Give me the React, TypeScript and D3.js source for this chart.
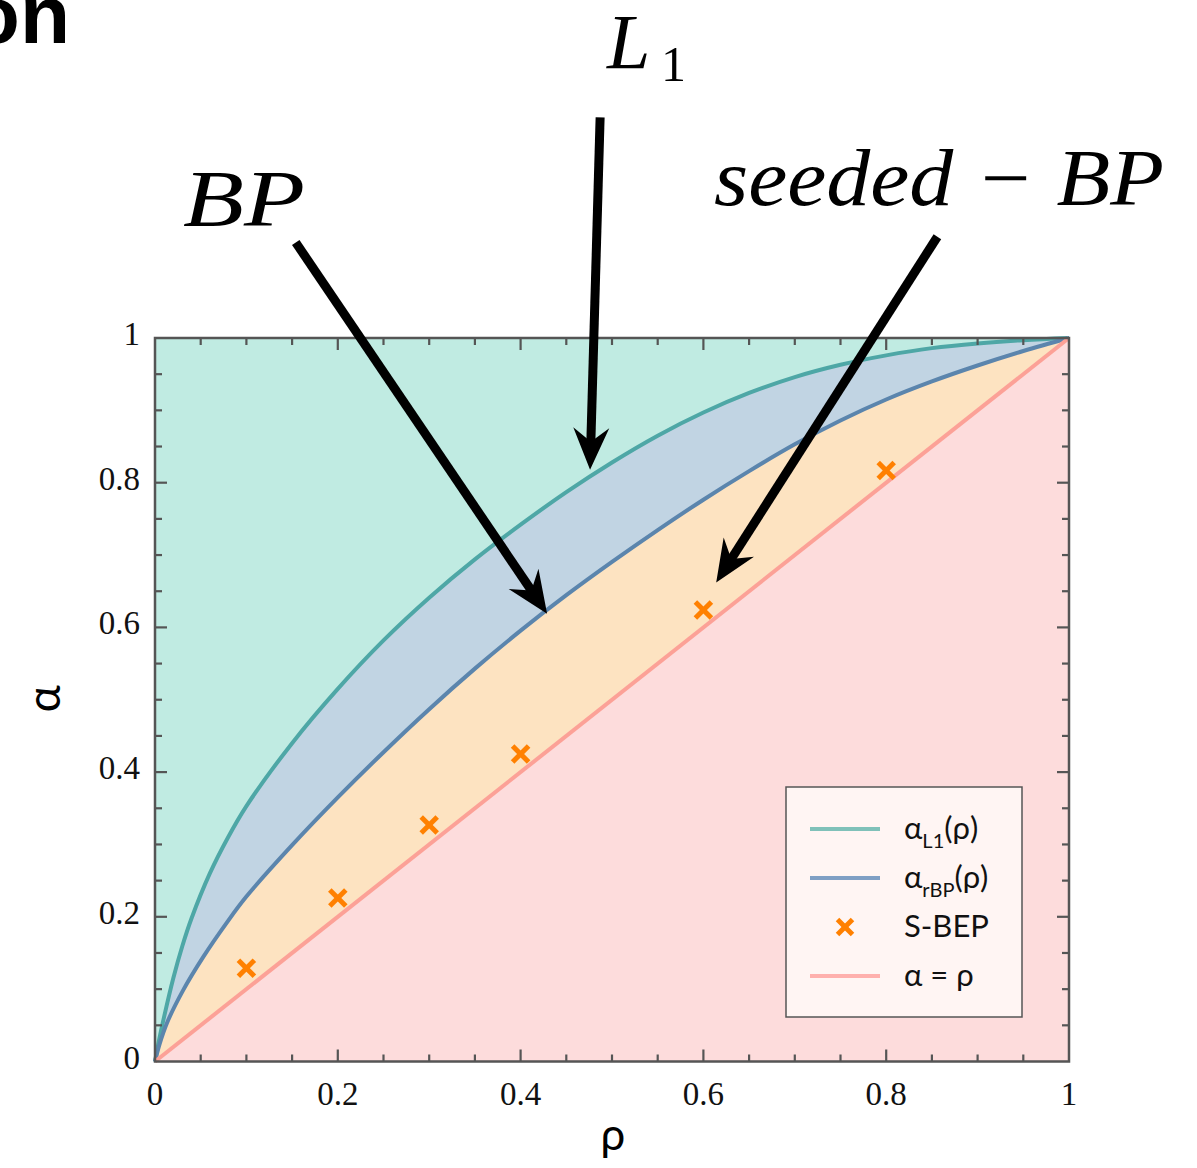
import React from "react";
import * as d3 from "d3";

// Phase boundaries in the (rho, alpha) plane
const rhoL1 = [0, 0.005, 0.01, 0.02, 0.03, 0.04, 0.06, 0.08, 0.1, 0.15, 0.2, 0.25, 0.3, 0.35, 0.4, 0.45, 0.5, 0.55, 0.6, 0.65, 0.7, 0.75, 0.8, 0.85, 0.9, 0.95, 1];
const alphaL1 = [0, 0.033, 0.062, 0.115, 0.16, 0.198, 0.26, 0.31, 0.353, 0.44, 0.515, 0.582, 0.641, 0.694, 0.742, 0.787, 0.828, 0.865, 0.897, 0.924, 0.946, 0.963, 0.976, 0.986, 0.9925, 0.997, 1];

const rhoBP = [0, 0.005, 0.013, 0.031, 0.053, 0.078, 0.1, 0.15, 0.2, 0.25, 0.3, 0.35, 0.4, 0.45, 0.5, 0.55, 0.6, 0.65, 0.7, 0.75, 0.8, 0.85, 0.9, 0.95, 1];
const alphaBP = [0, 0.024, 0.053, 0.099, 0.145, 0.191, 0.228, 0.299, 0.365, 0.4275, 0.487, 0.543, 0.5955, 0.6445, 0.6905, 0.7345, 0.7765, 0.816, 0.853, 0.886, 0.915, 0.94, 0.962, 0.982, 1];

const rhoDiag = [0, 1];
const alphaDiag = [0, 1];

// Seeded BEP simulation points
const rhoSBEP = [0.1, 0.2, 0.3, 0.4, 0.6, 0.8];
const alphaSBEP = [0.129, 0.226, 0.327, 0.425, 0.624, 0.817];

const majorTicks = [0, 0.2, 0.4, 0.6, 0.8, 1];
const tickLabels = ["0", "0.2", "0.4", "0.6", "0.8", "1"];

// Annotation arrows: tail and tip in data coordinates
const arrowTails = [[0.487, 1.305], [0.154, 1.132], [0.856, 1.14]];
const arrowTips = [[0.476, 0.818], [0.429, 0.619], [0.614, 0.662]];

const COLORS = {
  mint: "#c0ebe2",
  blueFill: "#c1d4e3",
  peach: "#fde3c1",
  pink: "#fddcdc",
  teal: "#4ea7a6",
  blue: "#5b85ad",
  diag: "#fca197",
  cross: "#ff8000",
  frame: "#555555",
};

const L = 155, R = 1069, T = 338, B = 1061.5;

function zip(a: number[], b: number[]): [number, number][] {
  return a.map((v, i) => [v, b[i]]);
}

function Arrow({ x1, y1, x2, y2 }: { x1: number; y1: number; x2: number; y2: number }) {
  const dx = x2 - x1, dy = y2 - y1;
  const len = Math.hypot(dx, dy);
  const ux = dx / len, uy = dy / len;
  const nx = -uy, ny = ux;
  const headLen = 42, headHalf = 18, notch = 28;
  const bx = x2 - ux * headLen, by = y2 - uy * headLen;
  const ix = x2 - ux * notch, iy = y2 - uy * notch;
  const head = `M${x2},${y2} L${bx + nx * headHalf},${by + ny * headHalf} L${ix},${iy} L${bx - nx * headHalf},${by - ny * headHalf} Z`;
  return (
    <g>
      <line x1={x1} y1={y1} x2={ix + ux * 2} y2={iy + uy * 2} stroke="#000" strokeWidth={9} />
      <path d={head} fill="#000" />
    </g>
  );
}

export default function App() {
  const x = d3.scaleLinear().domain([0, 1]).range([L, R]);
  const y = d3.scaleLinear().domain([0, 1]).range([B, T]);

  const curve = d3.curveCatmullRom.alpha(0.5);
  const line = d3
    .line<[number, number]>()
    .x((d) => x(d[0]))
    .y((d) => y(d[1]))
    .curve(curve);
  const area = d3
    .area<[number, number]>()
    .x((d) => x(d[0]))
    .y0(y(0))
    .y1((d) => y(d[1]))
    .curve(curve);

  const l1 = zip(rhoL1, alphaL1);
  const bp = zip(rhoBP, alphaBP);
  const diag = zip(rhoDiag, alphaDiag);

  const minorTicks = d3.range(0, 1.0001, 0.05).filter((t) => Math.abs(Math.round(t * 5) - t * 5) > 1e-6);

  const tickMarks: React.ReactNode[] = [];
  const addTicks = (vals: number[], lenPx: number, key: string) => {
    vals.forEach((t, i) => {
      const px = x(t), py = y(t);
      tickMarks.push(
        <line key={`${key}b${i}`} x1={px} x2={px} y1={B} y2={B - lenPx} />,
        <line key={`${key}t${i}`} x1={px} x2={px} y1={T} y2={T + lenPx} />,
        <line key={`${key}l${i}`} x1={L} x2={L + lenPx} y1={py} y2={py} />,
        <line key={`${key}r${i}`} x1={R} x2={R - lenPx} y1={py} y2={py} />
      );
    });
  };
  addTicks(majorTicks.slice(1, -1), 12, "M");
  addTicks(minorTicks, 7, "m");

  const serif = "'Liberation Serif', 'DejaVu Serif', serif";
  const sans = "Lato, 'Noto Sans', sans-serif";

  const lx1 = 810, lx2 = 880, ltx = 904;
  const rows = [829, 878, 927, 976];

  const cross = (cx: number, cy: number, s: number, key: string) => (
    <g key={key} stroke={COLORS.cross} strokeWidth={5}>
      <line x1={cx - s} y1={cy - s} x2={cx + s} y2={cy + s} />
      <line x1={cx - s} y1={cy + s} x2={cx + s} y2={cy - s} />
    </g>
  );

  return (
    <svg
      width={1197}
      height={1168}
      viewBox="0 0 1197 1168"
      style={{ position: "absolute", left: 0, top: 0, background: "#fff" }}
    >
      {/* corner title fragment */}
      <text x={70} y={43} textAnchor="end" fontFamily="'Liberation Sans', Arial, sans-serif" fontWeight="bold" fontSize={82} fill="#000">
        on
      </text>

      {/* regions */}
      <rect x={L} y={T} width={R - L} height={B - T} fill={COLORS.mint} />
      <path d={area(l1) ?? ""} fill={COLORS.blueFill} />
      <path d={area(bp) ?? ""} fill={COLORS.peach} />
      <path d={area(diag) ?? ""} fill={COLORS.pink} />

      {/* boundary curves */}
      <path d={line(l1) ?? ""} fill="none" stroke={COLORS.teal} strokeWidth={4} />
      <path d={line(bp) ?? ""} fill="none" stroke={COLORS.blue} strokeWidth={4} />
      <path d={line(diag) ?? ""} fill="none" stroke={COLORS.diag} strokeWidth={4} />

      {/* S-BEP points */}
      {rhoSBEP.map((r, i) => cross(x(r), y(alphaSBEP[i]), 8, `c${i}`))}

      {/* frame and ticks */}
      <g stroke={COLORS.frame} strokeWidth={2.2}>{tickMarks}</g>
      <rect x={L} y={T} width={R - L} height={B - T} fill="none" stroke={COLORS.frame} strokeWidth={2.5} />

      {/* tick labels */}
      <g fontFamily={serif} fontSize={33} fill="#111">
        {majorTicks.map((t, i) => (
          <text key={`xl${i}`} x={x(t)} y={1105} textAnchor="middle">
            {tickLabels[i]}
          </text>
        ))}
        {majorTicks.map((t, i) => (
          <text key={`yl${i}`} x={140} y={y(t) + 7} textAnchor="end">
            {tickLabels[i]}
          </text>
        ))}
      </g>

      {/* axis titles */}
      <text x={613} y={1150} textAnchor="middle" fontFamily={sans} fontSize={44} fill="#000">
        ρ
      </text>
      <text
        transform="translate(60,699) rotate(-90)"
        textAnchor="middle"
        fontFamily={sans}
        fontSize={46}
        fill="#000"
      >
        α
      </text>

      {/* legend */}
      <rect x={786} y={787} width={236} height={230} fill="#fff5f3" stroke={COLORS.frame} strokeWidth={1.5} />
      <line x1={lx1} x2={lx2} y1={rows[0]} y2={rows[0]} stroke="#80c1b9" strokeWidth={4} />
      <line x1={lx1} x2={lx2} y1={rows[1]} y2={rows[1]} stroke="#7f9fc4" strokeWidth={4} />
      {cross((lx1 + lx2) / 2, rows[2], 7.5, "lc")}
      <line x1={lx1} x2={lx2} y1={rows[3]} y2={rows[3]} stroke="#ffb0ad" strokeWidth={4} />
      <g fontFamily={sans} fontSize={31} fill="#111">
        <text x={ltx} y={rows[0] + 10}>
          α<tspan fontSize={20} dy={9}>L1</tspan>
          <tspan dy={-9}>(ρ)</tspan>
        </text>
        <text x={ltx} y={rows[1] + 10}>
          α<tspan fontSize={20} dy={9}>rBP</tspan>
          <tspan dy={-9}>(ρ)</tspan>
        </text>
        <text x={ltx} y={rows[2] + 10}>S-BEP</text>
        <text x={ltx} y={rows[3] + 10}>α = ρ</text>
      </g>

      {/* annotations */}
      <g fontFamily={serif} fill="#000">
        <text x={607} y={68} fontStyle="italic" fontSize={78}>L</text>
        <text x={661} y={81} fontSize={50}>1</text>
        <text x={183} y={226} fontStyle="italic" fontSize={80} textLength={122} lengthAdjust="spacingAndGlyphs">
          BP
        </text>
        <text x={714} y={205} fontStyle="italic" fontSize={80} textLength={450} lengthAdjust="spacingAndGlyphs">
          seeded − BP
        </text>
      </g>
      {arrowTails.map((t, i) => (
        <Arrow key={`a${i}`} x1={x(t[0])} y1={y(t[1])} x2={x(arrowTips[i][0])} y2={y(arrowTips[i][1])} />
      ))}
    </svg>
  );
}
